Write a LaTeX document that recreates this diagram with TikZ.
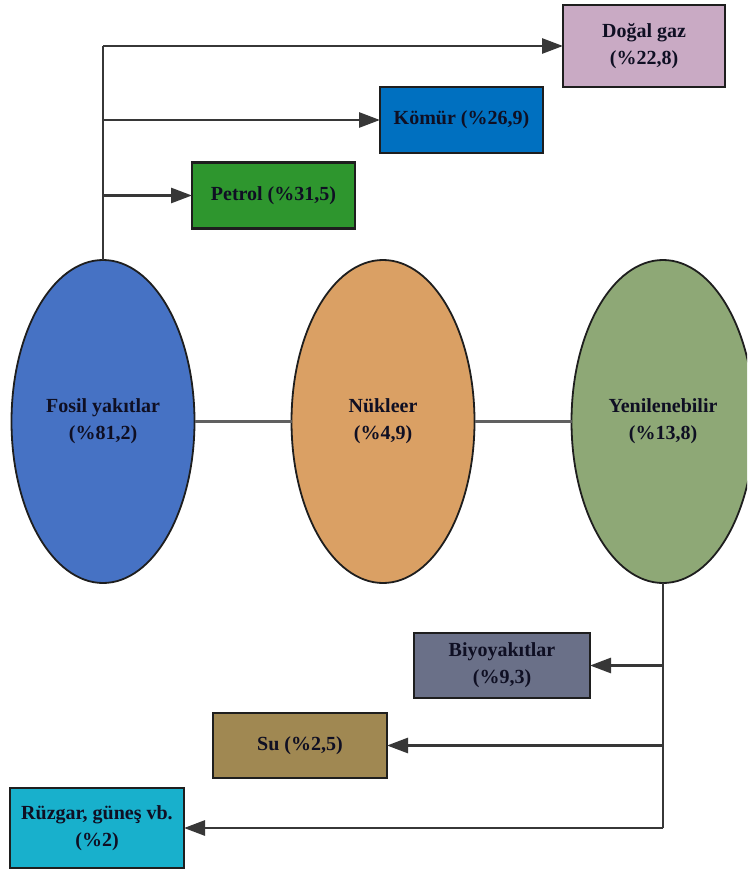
\documentclass[tikz,border=0pt]{standalone}
\usepackage{fontspec}
\setmainfont{Liberation Serif}
\usetikzlibrary{shapes.geometric,arrows.meta}

\definecolor{dogalc}{RGB}{201,170,196}
\definecolor{komurc}{RGB}{0,112,192}
\definecolor{petrolc}{RGB}{46,150,46}
\definecolor{fosilc}{RGB}{70,114,196}
\definecolor{nukleerc}{RGB}{218,160,100}
\definecolor{yenilec}{RGB}{142,168,118}
\definecolor{biyoc}{RGB}{106,112,136}
\definecolor{suc}{RGB}{160,136,82}
\definecolor{ruzgarc}{RGB}{24,176,204}
\definecolor{inkc}{RGB}{15,15,35}
\definecolor{edgec}{RGB}{30,30,30}
\definecolor{wirec}{RGB}{55,55,55}

\tikzset{
  lbl/.style={font=\fontsize{20}{27}\selectfont\bfseries, text=inkc, align=center},
  srcbox/.style={lbl, draw=edgec, line width=2.8pt, rectangle, inner sep=0pt, outer sep=0pt},
  oval/.style={lbl, draw=edgec, line width=1.8pt, ellipse, inner sep=0pt, outer sep=0pt,
               minimum width=183pt, minimum height=323pt},
  wire/.style={draw=wirec, line width=2.8pt},
  feed/.style={wire, -{Triangle[length=21pt,width=15pt]}},
  link/.style={draw=gray!75!black, line width=2.6pt}
}

\begin{document}
\begin{tikzpicture}[x=1pt,y=-1pt]
  \useasboundingbox (0,0) rectangle (747,872);
  \begin{scope}
  \clip (0,0) rectangle (747,872);

  % main energy groups
  \node[oval, fill=fosilc]   (fosil)   at (103,421.5) {Fosil yakıtlar\\(\%81,2)};
  \node[oval, fill=nukleerc] (nukleer) at (383,421.5) {Nükleer\\(\%4,9)};
  \node[oval, fill=yenilec]  (yenile)  at (663,421.5) {Yenilenebilir\\(\%13,8)};

  \draw[link] (fosil) -- (nukleer);
  \draw[link] (nukleer) -- (yenile);

  % fossil sources
  \node[srcbox, fill=dogalc,  minimum width=162pt, minimum height=82pt] (dogal)  at (644,46)    {Doğal gaz\\(\%22,8)};
  \node[srcbox, fill=komurc,  minimum width=163pt, minimum height=66pt] (komur)  at (461.5,120) {Kömür (\%26,9)};
  \node[srcbox, fill=petrolc, minimum width=163pt, minimum height=66pt] (petrol) at (273.5,195.5) {Petrol (\%31,5)};

  % renewable sources
  \node[srcbox, fill=biyoc,   minimum width=176pt, minimum height=65pt] (biyo)   at (502,665.5) {Biyoyakıtlar\\(\%9,3)};
  \node[srcbox, fill=suc,     minimum width=174pt, minimum height=65pt] (su)     at (300,745.5) {Su (\%2,5)};
  \node[srcbox, fill=ruzgarc, minimum width=174pt, minimum height=80pt] (ruzgar) at (97,828)    {Rüzgar, güneş vb.\\(\%2)};

  % fossil branch
  \draw[wire] (fosil.north) -- (fosil.north |- dogal.west);
  \draw[feed] (fosil.north |- dogal.west)  -- (dogal.west);
  \draw[feed] (fosil.north |- komur.west)  -- (komur.west);
  \draw[feed] (fosil.north |- petrol.west) -- (petrol.west);

  % renewable branch
  \draw[wire] (yenile.south) -- (yenile.south |- ruzgar.east);
  \draw[feed] (yenile.south |- biyo.east)   -- (biyo.east);
  \draw[feed] (yenile.south |- su.east)     -- (su.east);
  \draw[feed] (yenile.south |- ruzgar.east) -- (ruzgar.east);
  \end{scope}
\end{tikzpicture}
\end{document}
